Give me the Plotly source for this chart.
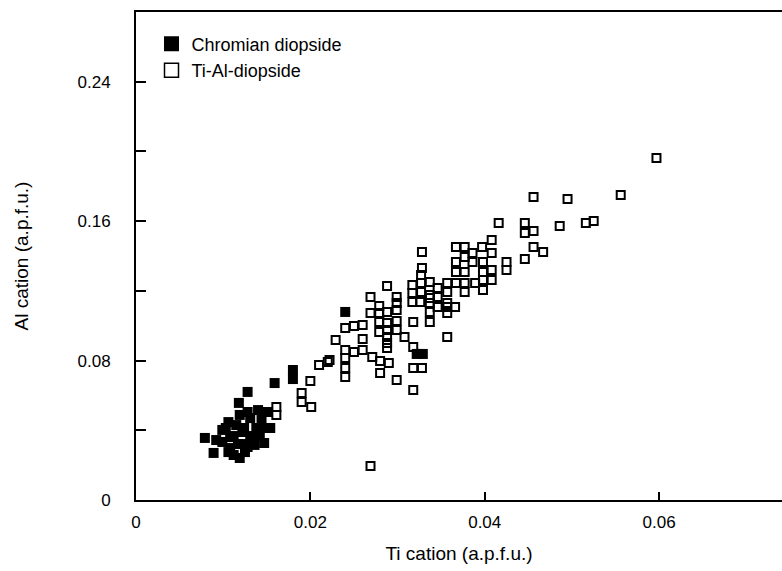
import plotly.graph_objects as go

# Chromian diopside (filled squares)
cr_ti = [0.0079, 0.0089, 0.0118, 0.0128, 0.0159, 0.0180, 0.0180, 0.0240, 0.0322, 0.0329,
         0.0099, 0.0099, 0.0108, 0.0108, 0.0115, 0.0117, 0.0122, 0.0125, 0.0131, 0.0131,
         0.0138, 0.0144, 0.0142, 0.0149, 0.0151, 0.0140, 0.0128, 0.0119, 0.0106, 0.0112,
         0.0128, 0.0136, 0.0092, 0.0147, 0.0103, 0.0112, 0.0124, 0.0133, 0.0126, 0.0106,
         0.0154, 0.0119]
cr_al = [0.0356, 0.0270, 0.0557, 0.0620, 0.0671, 0.0746, 0.0694, 0.1079, 0.0838, 0.0838,
         0.0402, 0.0333, 0.0361, 0.0298, 0.0430, 0.0321, 0.0390, 0.0275, 0.0470, 0.0344,
         0.0413, 0.0459, 0.0367, 0.0413, 0.0505, 0.0516, 0.0505, 0.0488, 0.0447, 0.0258,
         0.0304, 0.0316, 0.0344, 0.0327, 0.0413, 0.0367, 0.0413, 0.0367, 0.0321, 0.0275,
         0.0413, 0.0241]

# Ti-Al-diopside (open squares)
ta_ti = [0.0597, 0.0556, 0.0495, 0.0456, 0.0416, 0.0446, 0.0456, 0.0446, 0.0486, 0.0516,
         0.0525, 0.0456, 0.0467, 0.0446, 0.0425, 0.0425, 0.0408, 0.0328, 0.0328, 0.0288,
         0.0367, 0.0377, 0.0397, 0.0386, 0.0408, 0.0367, 0.0377, 0.0386, 0.0398, 0.0408,
         0.0367, 0.0377, 0.0398, 0.0389, 0.0398, 0.0408, 0.0377, 0.0367, 0.0377, 0.0398,
         0.0357, 0.0357, 0.0346, 0.0357, 0.0346, 0.0366, 0.0337, 0.0337,
         0.0269, 0.0299, 0.0299, 0.0299, 0.0279, 0.0288, 0.0269, 0.0279, 0.0240, 0.0250,
         0.0260, 0.0279, 0.0288, 0.0299, 0.0279, 0.0288, 0.0288, 0.0288, 0.0288, 0.0299,
         0.0308, 0.0318, 0.0318, 0.0229, 0.0260, 0.0240, 0.0240, 0.0240, 0.0240, 0.0250,
         0.0260, 0.0271, 0.0280, 0.0290, 0.0280, 0.0299, 0.0318, 0.0318, 0.0328, 0.0222,
         0.0357, 0.0317, 0.0317, 0.0317, 0.0327, 0.0327, 0.0327, 0.0337, 0.0337, 0.0337,
         0.0337, 0.0346, 0.0357, 0.0357, 0.0326, 0.0210, 0.0220,
         0.0200, 0.0190, 0.0190, 0.0201, 0.0161, 0.0161, 0.0269]
ta_al = [0.1962, 0.1750, 0.1727, 0.1738, 0.1589, 0.1589, 0.1543, 0.1532, 0.1572, 0.1589,
         0.1601, 0.1452, 0.1423, 0.1383, 0.1365, 0.1320, 0.1492, 0.1423, 0.1331, 0.1228,
         0.1452, 0.1452, 0.1452, 0.1417, 0.1417, 0.1365, 0.1394, 0.1365, 0.1365, 0.1320,
         0.1308, 0.1308, 0.1308, 0.1245, 0.1262, 0.1262, 0.1245, 0.1245, 0.1193, 0.1205,
         0.1245, 0.1193, 0.1216, 0.1107, 0.1107, 0.1107, 0.1251, 0.1159,
         0.1165, 0.1165, 0.1130, 0.1090, 0.1113, 0.1079, 0.1073, 0.1073, 0.0987, 0.0998,
         0.1004, 0.1021, 0.1015, 0.1027, 0.0964, 0.0975, 0.0935, 0.0901, 0.0872, 0.0975,
         0.0935, 0.1021, 0.0878, 0.0918, 0.0924, 0.0861, 0.0815, 0.0757, 0.0706, 0.0849,
         0.0861, 0.0820, 0.0797, 0.0786, 0.0729, 0.0688, 0.0631, 0.0757, 0.0757, 0.0803,
         0.0935, 0.1234, 0.1188, 0.1136, 0.1291, 0.1245, 0.1193, 0.1176, 0.1130, 0.1079,
         0.1021, 0.1165, 0.1130, 0.1073, 0.1136, 0.0775, 0.0792,
         0.0683, 0.0614, 0.0562, 0.0534, 0.0534, 0.0488, 0.0195]

series_names = ["Chromian diopside", "Ti-Al-diopside"]
x_tickvals = [0, 0.02, 0.04, 0.06]
x_ticktext = ["0", "0.02", "0.04", "0.06"]
y_tickvals = [0, 0.04, 0.08, 0.12, 0.16, 0.20, 0.24]
y_ticktext = ["0", "", "0.08", "", "0.16", "", "0.24"]

FONT = "Liberation Sans, Arial, Helvetica, sans-serif"

fig = go.Figure()
fig.add_trace(go.Scatter(
    x=ta_ti, y=ta_al, mode="markers", showlegend=False,
    marker=dict(symbol="square-open", size=8, color="black", line=dict(width=2, color="black"))))
fig.add_trace(go.Scatter(
    x=cr_ti, y=cr_al, mode="markers", showlegend=False,
    marker=dict(symbol="square", size=10, color="black", line=dict(width=0))))
# legend entries
fig.add_trace(go.Scatter(
    x=[None], y=[None], mode="markers", name=series_names[0],
    marker=dict(symbol="square", size=15, color="black", line=dict(width=0))))
fig.add_trace(go.Scatter(
    x=[None], y=[None], mode="markers", name=series_names[1],
    marker=dict(symbol="square-open", size=14, color="black", line=dict(width=1.5, color="black"))))

fig.update_layout(
    width=782, height=571,
    margin=dict(l=136, r=0, t=12, b=71),
    paper_bgcolor="white", plot_bgcolor="white",
    font=dict(family=FONT, size=17, color="black"),
    showlegend=True,
    legend=dict(x=0.024, y=0.972, xanchor="left", yanchor="top",
                bgcolor="rgba(0,0,0,0)", font=dict(size=18, family=FONT),
                itemsizing="trace", tracegroupgap=0),
    xaxis=dict(range=[0, 0.0741], tickvals=x_tickvals, ticktext=x_ticktext,
               ticks="inside", ticklen=8, tickwidth=2, tickcolor="black",
               showline=True, linecolor="black", linewidth=2, mirror=True,
               showgrid=False, zeroline=False, ticklabelstandoff=6,
               title=dict(text="Ti cation (a.p.f.u.)", font=dict(size=19, family=FONT), standoff=15),
               tickfont=dict(size=17, family=FONT)),
    yaxis=dict(range=[0, 0.28], tickvals=y_tickvals, ticktext=y_ticktext,
               ticks="inside", ticklen=10, tickwidth=2, tickcolor="black",
               showline=True, linecolor="black", linewidth=2, mirror=False,
               showgrid=False, zeroline=False, ticklabelstandoff=20,
               title=dict(text="Al cation (a.p.f.u.)", font=dict(size=19, family=FONT), standoff=44),
               tickfont=dict(size=17, family=FONT)),
)

fig.write_html("out.html")
